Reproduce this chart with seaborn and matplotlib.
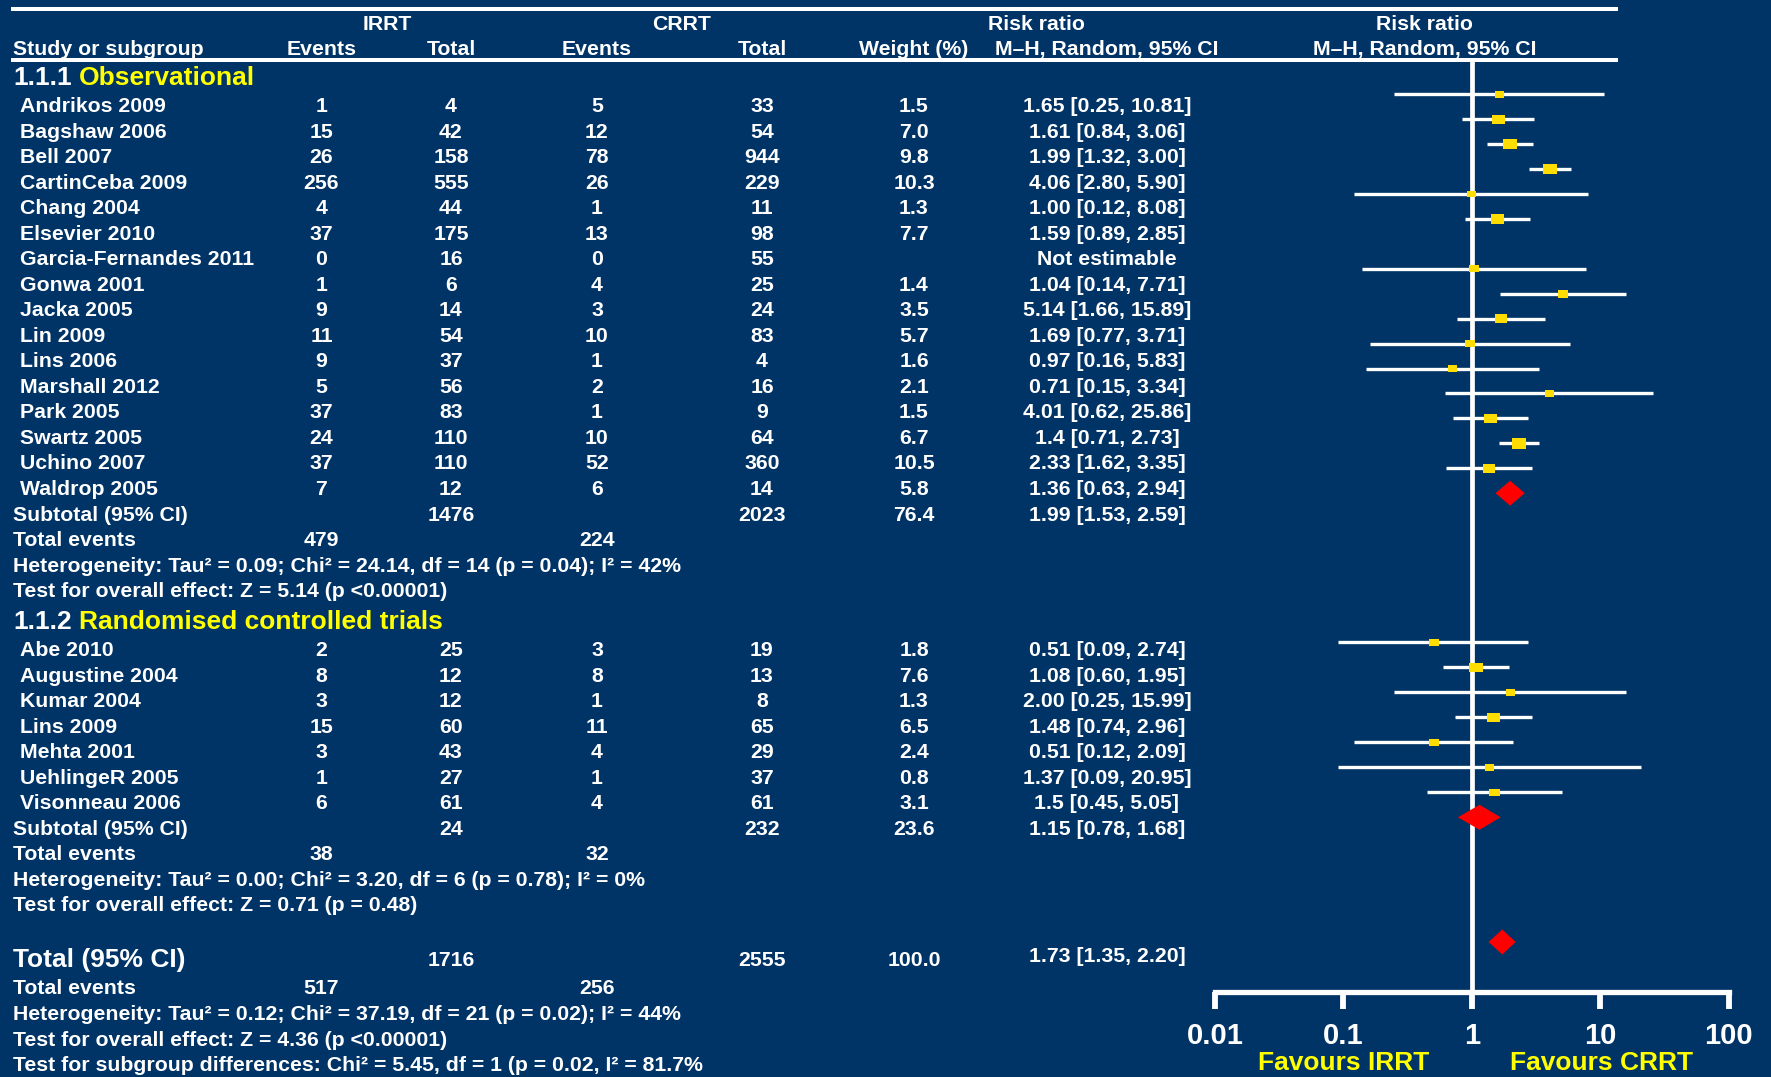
import matplotlib
matplotlib.use("Agg")
import matplotlib.pyplot as plt
from matplotlib.ticker import NullLocator
import numpy as np
import pandas as pd
import seaborn as sns

# ---------------- data ----------------
obs_study = ["Andrikos 2009", "Bagshaw 2006", "Bell 2007", "CartinCeba 2009", "Chang 2004",
             "Elsevier 2010", "Garcia-Fernandes 2011", "Gonwa 2001", "Jacka 2005", "Lin 2009",
             "Lins 2006", "Marshall 2012", "Park 2005", "Swartz 2005", "Uchino 2007", "Waldrop 2005"]
obs_irrt_events = [1, 15, 26, 256, 4, 37, 0, 1, 9, 11, 9, 5, 37, 24, 37, 7]
obs_irrt_total = [4, 42, 158, 555, 44, 175, 16, 6, 14, 54, 37, 56, 83, 110, 110, 12]
obs_crrt_events = [5, 12, 78, 26, 1, 13, 0, 4, 3, 10, 1, 2, 1, 10, 52, 6]
obs_crrt_total = [33, 54, 944, 229, 11, 98, 55, 25, 24, 83, 4, 16, 9, 64, 360, 14]
obs_weight = [1.5, 7.0, 9.8, 10.3, 1.3, 7.7, None, 1.4, 3.5, 5.7, 1.6, 2.1, 1.5, 6.7, 10.5, 5.8]
obs_rr = ["1.65", "1.61", "1.99", "4.06", "1.00", "1.59", None, "1.04", "5.14", "1.69",
          "0.97", "0.71", "4.01", "1.4", "2.33", "1.36"]
obs_lo = [0.25, 0.84, 1.32, 2.80, 0.12, 0.89, None, 0.14, 1.66, 0.77, 0.16, 0.15, 0.62, 0.71, 1.62, 0.63]
obs_hi = [10.81, 3.06, 3.00, 5.90, 8.08, 2.85, None, 7.71, 15.89, 3.71, 5.83, 3.34, 25.86, 2.73, 3.35, 2.94]
obs_subtotal_n = [1476, 2023]
obs_subtotal_weight = 76.4
obs_subtotal_ci = ["1.99", 1.53, 2.59]
obs_events = [479, 224]
obs_heterogeneity = "Heterogeneity: Tau\u00b2 = 0.09; Chi\u00b2 = 24.14, df = 14 (p = 0.04); I\u00b2 = 42%"
obs_effect = "Test for overall effect: Z = 5.14 (p <0.00001)"

rct_study = ["Abe 2010", "Augustine 2004", "Kumar 2004", "Lins 2009", "Mehta 2001",
             "UehlingeR 2005", "Visonneau 2006"]
rct_irrt_events = [2, 8, 3, 15, 3, 1, 6]
rct_irrt_total = [25, 12, 12, 60, 43, 27, 61]
rct_crrt_events = [3, 8, 1, 11, 4, 1, 4]
rct_crrt_total = [19, 13, 8, 65, 29, 37, 61]
rct_weight = [1.8, 7.6, 1.3, 6.5, 2.4, 0.8, 3.1]
rct_rr = ["0.51", "1.08", "2.00", "1.48", "0.51", "1.37", "1.5"]
rct_lo = [0.09, 0.60, 0.25, 0.74, 0.12, 0.09, 0.45]
rct_hi = [2.74, 1.95, 15.99, 2.96, 2.09, 20.95, 5.05]
rct_subtotal_n = [24, 232]
rct_subtotal_weight = 23.6
rct_subtotal_ci = ["1.15", 0.78, 1.68]
rct_events = [38, 32]
rct_heterogeneity = "Heterogeneity: Tau\u00b2 = 0.00; Chi\u00b2 = 3.20, df = 6 (p = 0.78); I\u00b2 = 0%"
rct_effect = "Test for overall effect: Z = 0.71 (p = 0.48)"

total_n = [1716, 2555]
total_weight = 100.0
total_ci = ["1.73", 1.35, 2.20]
total_events = [517, 256]
total_heterogeneity = "Heterogeneity: Tau\u00b2 = 0.12; Chi\u00b2 = 37.19, df = 21 (p = 0.02); I\u00b2 = 44%"
total_effect = "Test for overall effect: Z = 4.36 (p <0.00001)"
subgroup_test = "Test for subgroup differences: Chi\u00b2 = 5.45, df = 1 (p = 0.02, I\u00b2 = 81.7%"

axis_ticks = [0.01, 0.1, 1, 10, 100]
axis_tick_labels = ["0.01", "0.1", "1", "10", "100"]

# ---------------- styling ----------------
NAVY = "#003366"
WHITE = "#FFFFFF"
YELLOW = "#FFFF00"
SQUARE = "#FFDD00"
RED = "#FF0000"

sns.set_theme(style="white")
plt.rcParams["font.family"] = ["Liberation Sans", "DejaVu Sans"]
plt.rcParams["font.weight"] = "bold"

W, H = 1771, 1077
fig = plt.figure(figsize=(W / 100, H / 100), dpi=100, facecolor=NAVY)
ax = fig.add_axes([0, 0, 1, 1])
ax.set_xlim(0, W)
ax.set_ylim(H, 0)
ax.axis("off")

ROW_PT = 15.3
BIG_PT = 19


def put(x, y, s, ha="center", size=ROW_PT, color=WHITE):
    return ax.text(x, y, s, ha=ha, va="center", fontsize=size, color=color,
                   fontweight="bold")


# column anchors
X_HEAD = 13
X_NAME = 20
X_IE, X_IT, X_CE, X_CT, X_W, X_CI = 321.5, 451, 597, 762, 914, 1107
X_PLOT_CENTER = 1424.6

# header rules
ax.hlines([8.7, 59.7], 11.5, 1618, color=WHITE, lw=2.9)

# column headings
put(387.5, 24.5, "IRRT")
put(681.4, 24.5, "CRRT")
put(1036.8, 24.5, "Risk ratio")
put(X_PLOT_CENTER, 24.5, "Risk ratio")
put(X_HEAD, 49.5, "Study or subgroup", ha="left")
put(X_IE, 49.5, "Events")
put(X_IT, 49.5, "Total")
put(X_CE, 49.5, "Events")
put(X_CT, 49.5, "Total")
put(X_W, 49.5, "Weight (%)")
put(X_CI, 49.5, "M\u2013H, Random, 95% CI")
put(X_PLOT_CENTER, 49.5, "M\u2013H, Random, 95% CI")

renderer = fig.canvas.get_renderer()


def section_title(y, number, title):
    t = put(X_HEAD, y, number, ha="left", size=BIG_PT)
    w = t.get_window_extent(renderer=renderer).width
    gap = 0.278 * BIG_PT / 0.72
    put(X_HEAD + w + gap, y, title, ha="left", size=BIG_PT, color=YELLOW)


def ci_text(rr, lo, hi):
    return f"{rr} [{lo:.2f}, {hi:.2f}]"


def study_rows(y0, step, names, ie, it, ce, ct, wt, rr, lo, hi):
    for i in range(len(names)):
        y = y0 + step * i
        put(X_NAME, y, names[i], ha="left")
        put(X_IE, y, str(ie[i]))
        put(X_IT, y, str(it[i]))
        put(X_CE, y, str(ce[i]))
        put(X_CT, y, str(ct[i]))
        if wt[i] is None:
            put(X_CI, y, "Not estimable")
        else:
            put(X_W, y, f"{wt[i]:.1f}")
            put(X_CI, y, ci_text(rr[i], lo[i], hi[i]))


def summary_rows(y0, step, n, wt, ci, ev, het, eff):
    put(X_HEAD, y0, "Subtotal (95% CI)", ha="left")
    put(X_IT, y0, str(n[0]))
    put(X_CT, y0, str(n[1]))
    put(X_W, y0, f"{wt:.1f}")
    put(X_CI, y0, ci_text(*ci))
    put(X_HEAD, y0 + step, "Total events", ha="left")
    put(X_IE, y0 + step, str(ev[0]))
    put(X_CE, y0 + step, str(ev[1]))
    put(X_HEAD, y0 + 2 * step, het, ha="left")
    put(X_HEAD, y0 + 3 * step, eff, ha="left")


# observational studies
OBS_Y0, OBS_STEP = 106.7, 25.52
section_title(78, "1.1.1", "Observational")
study_rows(OBS_Y0, OBS_STEP, obs_study, obs_irrt_events, obs_irrt_total, obs_crrt_events,
           obs_crrt_total, obs_weight, obs_rr, obs_lo, obs_hi)
summary_rows(OBS_Y0 + OBS_STEP * len(obs_study), OBS_STEP, obs_subtotal_n, obs_subtotal_weight,
             obs_subtotal_ci, obs_events, obs_heterogeneity, obs_effect)

# randomised trials
RCT_Y0, RCT_STEP = 650.7, 25.5
section_title(622, "1.1.2", "Randomised controlled trials")
study_rows(RCT_Y0, RCT_STEP, rct_study, rct_irrt_events, rct_irrt_total, rct_crrt_events,
           rct_crrt_total, rct_weight, rct_rr, rct_lo, rct_hi)
summary_rows(RCT_Y0 + RCT_STEP * len(rct_study), RCT_STEP, rct_subtotal_n, rct_subtotal_weight,
             rct_subtotal_ci, rct_events, rct_heterogeneity, rct_effect)

# overall total
TOT_Y = 960
put(X_HEAD, TOT_Y, "Total (95% CI)", ha="left", size=BIG_PT)
put(X_IT, TOT_Y, str(total_n[0]))
put(X_CT, TOT_Y, str(total_n[1]))
put(X_W, TOT_Y, f"{total_weight:.1f}")
put(X_CI, TOT_Y - 3, ci_text(*total_ci))
put(X_HEAD, 989, "Total events", ha="left")
put(X_IE, 989, str(total_events[0]))
put(X_CE, 989, str(total_events[1]))
put(X_HEAD, 1014.5, total_heterogeneity, ha="left")
put(X_HEAD, 1040, total_effect, ha="left")
put(X_HEAD, 1065.5, subgroup_test, ha="left")

# ---------------- forest panel ----------------
AX_X0, AX_X1, AX_Y = 1215.0, 1728.5, 992
axf = fig.add_axes([AX_X0 / W, (H - AX_Y) / H, (AX_X1 - AX_X0) / W, AX_Y / H])
axf.patch.set_visible(False)
axf.set_xscale("log")
axf.set_xlim(axis_ticks[0], axis_ticks[-1])
axf.set_ylim(AX_Y, 0)
axf.grid(False)

OBS_FY0, OBS_FSTEP = 94.3, 24.93
RCT_FY0, RCT_FSTEP = 642.3, 25.0
TOT_FY = 942


def to_frame(rr, lo, hi, wt, y0, step):
    rows = []
    for i in range(len(rr)):
        if rr[i] is None:
            continue
        rows.append({"rr": float(rr[i]), "lo": lo[i], "hi": hi[i], "weight": wt[i],
                     "y": y0 + step * i})
    return pd.DataFrame(rows)


studies = pd.concat([
    to_frame(obs_rr, obs_lo, obs_hi, obs_weight, OBS_FY0, OBS_FSTEP),
    to_frame(rct_rr, rct_lo, rct_hi, rct_weight, RCT_FY0, RCT_FSTEP),
], ignore_index=True)

# line of no effect
axf.vlines(1, 60, AX_Y, color=WHITE, lw=3.4, zorder=2, clip_on=False)

# confidence intervals
axf.hlines(studies["y"], studies["lo"], studies["hi"], color=WHITE, lw=2.4, zorder=3)

# study weights as filled boxes
box = [(-1.0, -0.72), (1.0, -0.72), (1.0, 0.72), (-1.0, 0.72)]
sns.scatterplot(data=studies, x="rr", y="y", size="weight", sizes=(44, 112),
                size_norm=(1.5, 10.5), marker=box, color=SQUARE, edgecolor="none",
                linewidth=0, legend=False, ax=axf, zorder=4)

# pooled estimates
pooled = [
    (obs_subtotal_ci, OBS_FY0 + OBS_FSTEP * len(obs_study)),
    (rct_subtotal_ci, RCT_FY0 + RCT_FSTEP * len(rct_study)),
    (total_ci, TOT_FY),
]
for (rr, lo, hi), y in pooled:
    rr = float(rr)
    axf.fill([lo, rr, hi, rr], [y, y - 12.5, y, y + 12.5], color=RED, lw=0, zorder=4)

axf.set_xlabel("")
axf.set_ylabel("")
for side in ("top", "left", "right"):
    axf.spines[side].set_visible(False)
axf.spines["bottom"].set_color(WHITE)
axf.spines["bottom"].set_linewidth(3.8)
axf.spines["bottom"].set_capstyle("projecting")
axf.set_xticks(axis_ticks)
axf.set_xticklabels(axis_tick_labels)
axf.xaxis.set_minor_locator(NullLocator())
axf.tick_params(axis="x", which="major", bottom=True, direction="out", length=12.5,
                width=4.2, color=WHITE, labelcolor=WHITE, labelsize=21, pad=9)
for lab in axf.get_xticklabels():
    lab.set_fontweight("bold")
axf.tick_params(axis="y", left=False, labelleft=False)

put(1344, 1063, "Favours IRRT", size=BIG_PT, color=YELLOW)
put(1602, 1063, "Favours CRRT", size=BIG_PT, color=YELLOW)

fig.savefig("out.png", dpi=100, facecolor=NAVY)
